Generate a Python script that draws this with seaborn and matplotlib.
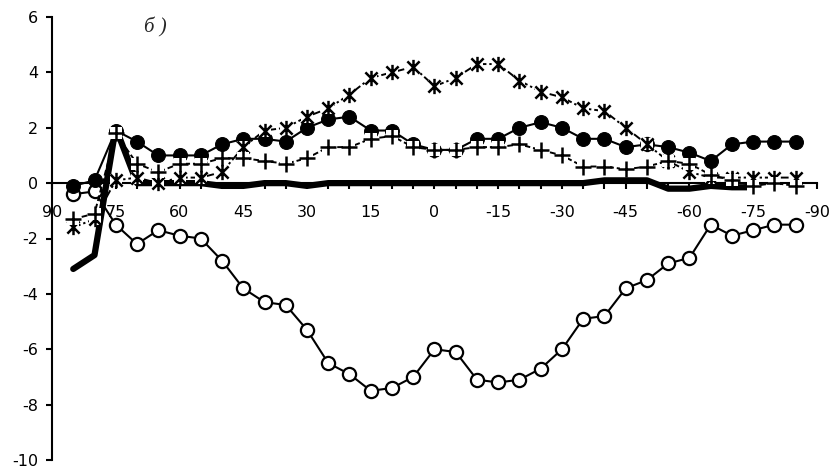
import numpy as np
import matplotlib
matplotlib.use("Agg")
import matplotlib.pyplot as plt
from matplotlib.path import Path
import seaborn as sns

# ---- data ----
latitude = [85, 80, 75, 70, 65, 60, 55, 50, 45, 40, 35, 30, 25, 20, 15, 10, 5, 0,
            -5, -10, -15, -20, -25, -30, -35, -40, -45, -50, -55, -60, -65, -70, -75, -80, -85]
filled_circles = [-0.1, 0.1, 1.9, 1.5, 1.0, 1.0, 1.0, 1.4, 1.6, 1.6, 1.5, 2.0, 2.3, 2.4, 1.9, 1.9, 1.4, 1.2,
                  1.2, 1.6, 1.6, 2.0, 2.2, 2.0, 1.6, 1.6, 1.3, 1.4, 1.3, 1.1, 0.8, 1.4, 1.5, 1.5, 1.5]
open_circles = [-0.4, -0.3, -1.5, -2.2, -1.7, -1.9, -2.0, -2.8, -3.8, -4.3, -4.4, -5.3, -6.5, -6.9, -7.5, -7.4, -7.0, -6.0,
                -6.1, -7.1, -7.2, -7.1, -6.7, -6.0, -4.9, -4.8, -3.8, -3.5, -2.9, -2.7, -1.5, -1.9, -1.7, -1.5, -1.5]
stars = [-1.6, -1.3, 0.1, 0.2, 0.0, 0.2, 0.2, 0.4, 1.3, 1.9, 2.0, 2.4, 2.7, 3.2, 3.8, 4.0, 4.2, 3.5,
         3.8, 4.3, 4.3, 3.7, 3.3, 3.1, 2.7, 2.6, 2.0, 1.4, 0.8, 0.4, 0.2, 0.2, 0.2, 0.2, 0.2]
pluses = [-1.3, -1.1, 1.8, 0.7, 0.4, 0.7, 0.7, 0.9, 0.9, 0.8, 0.7, 0.9, 1.3, 1.3, 1.6, 1.7, 1.3, 1.2,
          1.2, 1.3, 1.3, 1.4, 1.2, 1.0, 0.6, 0.6, 0.5, 0.6, 0.8, 0.7, 0.3, 0.1, -0.1, 0.0, -0.1]
thick_lat = [85, 80, 75, 70, 65, 60, 55, 50, 45, 40, 35, 30, 25, 20, 15, 10, 5, 0,
             -5, -10, -15, -20, -25, -30, -35, -40, -45, -50, -55, -60, -65, -70, -75]
thick = [-3.1, -2.6, 2.0, 0.0, 0.0, 0.0, 0.0, -0.1, -0.1, 0.0, 0.0, -0.1, 0.0, 0.0, 0.0, 0.0, 0.0, 0.0,
         0.0, 0.0, 0.0, 0.0, 0.0, 0.0, 0.0, 0.1, 0.1, 0.1, -0.2, -0.2, -0.1, -0.15, -0.15]

x_ticks = list(range(90, -91, -5))
x_ticklabels = [str(t) if t % 15 == 0 else "" for t in x_ticks]
y_ticks = list(range(-10, 7, 2))
y_ticklabels = [str(t) for t in y_ticks]

# ---- style ----
sns.set_style("ticks")
plt.rcParams["font.family"] = ["DejaVu Sans"]
plt.rcParams["axes.unicode_minus"] = False

fig = plt.figure(figsize=(8.34, 4.68), dpi=100)
ax = fig.add_axes([52 / 834, 1 - 460 / 468, (817 - 52) / 834, (460 - 17) / 468])

star_marker = Path([(0, -1), (0, 1), (-0.8, -0.8), (0.8, 0.8), (-0.8, 0.8), (0.8, -0.8)],
                   [Path.MOVETO, Path.LINETO, Path.MOVETO, Path.LINETO, Path.MOVETO, Path.LINETO])

# thick line (no markers)
sns.lineplot(x=thick_lat, y=thick, ax=ax, color="black", lw=4.5, sort=False,
             solid_joinstyle="round", solid_capstyle="round")
# open circles
sns.lineplot(x=latitude, y=open_circles, ax=ax, color="black", lw=1.5, sort=False,
             marker="o", markersize=9.5, markerfacecolor="white", markeredgecolor="black",
             markeredgewidth=1.6)
# filled circles
sns.lineplot(x=latitude, y=filled_circles, ax=ax, color="black", lw=1.5, sort=False,
             marker="o", markersize=10, markerfacecolor="black", markeredgecolor="black")
# stars with white background boxes
sns.lineplot(x=latitude, y=stars, ax=ax, color="black", lw=1.4, sort=False,
             linestyle=(0, (4, 1.5, 1.2, 1.5)))
sns.lineplot(x=latitude, y=stars, ax=ax, color="white", linestyle="none", sort=False,
             marker="s", markersize=8, markerfacecolor="white", markeredgewidth=0)
sns.lineplot(x=latitude, y=stars, ax=ax, color="black", linestyle="none", sort=False,
             marker=star_marker, markersize=11, markeredgewidth=1.8,
             markeredgecolor="black")
# pluses with white background boxes
sns.lineplot(x=latitude, y=pluses, ax=ax, color="black", lw=1.4, sort=False,
             linestyle=(0, (3, 1.5)))
sns.lineplot(x=latitude, y=pluses, ax=ax, color="white", linestyle="none", sort=False,
             marker="s", markersize=8, markerfacecolor="white", markeredgewidth=0)
sns.lineplot(x=latitude, y=pluses, ax=ax, color="black", linestyle="none", sort=False,
             marker="+", markersize=11, markeredgewidth=1.8, markeredgecolor="black")

# ---- axes ----
ax.set_xlim(90, -90)
ax.set_ylim(-10, 6)
ax.spines["top"].set_visible(False)
ax.spines["right"].set_visible(False)
ax.spines["bottom"].set_position(("data", 0))
for s in ("left", "bottom"):
    ax.spines[s].set_linewidth(1.5)
    ax.spines[s].set_color("black")
    ax.spines[s].set_zorder(1.5)

ax.set_xticks(x_ticks)
ax.set_xticklabels(x_ticklabels)
ax.set_yticks(y_ticks)
ax.set_yticklabels(y_ticklabels)
ax.tick_params(axis="x", direction="out", length=4, width=1.5, pad=12, labelsize=11.5, colors="black")
ax.tick_params(axis="y", direction="out", length=4, width=1.5, pad=6, labelsize=11.5, colors="black")
ax.set_xlabel("")
ax.set_ylabel("")

fig.text(155 / 834, 1 - 27 / 468, "б )", family=["Liberation Serif", "DejaVu Serif"],
         style="italic", fontsize=15, ha="center", va="center")

fig.savefig("out.png", dpi=100)
